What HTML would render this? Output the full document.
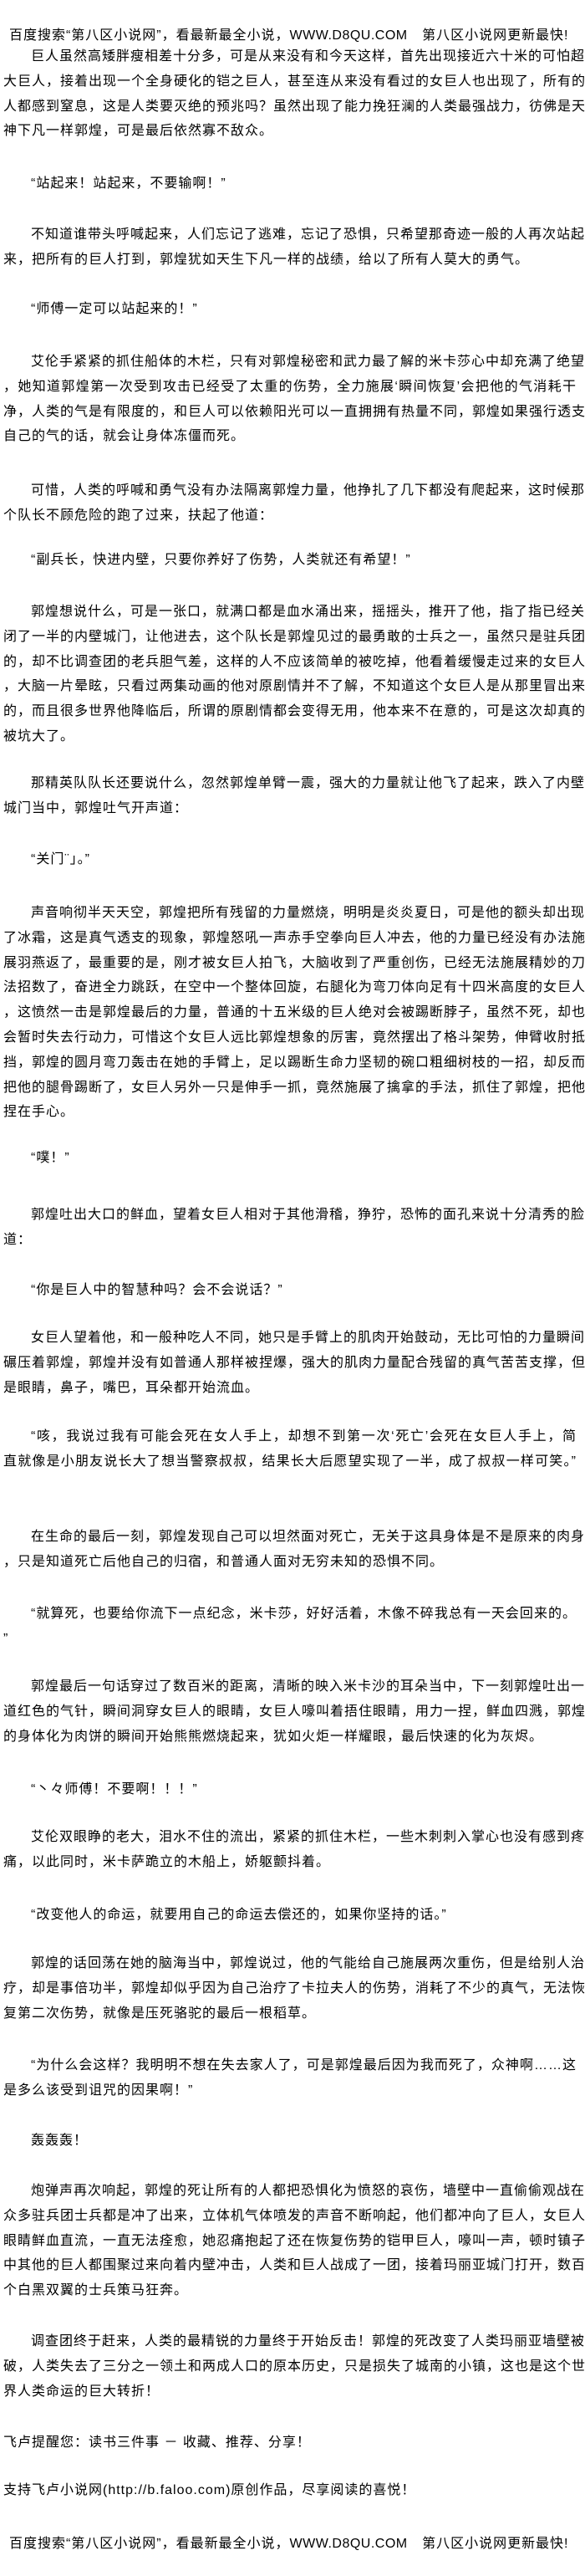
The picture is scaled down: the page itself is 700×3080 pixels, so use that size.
<!DOCTYPE html>
<html><head><meta charset="utf-8">
<style>
html,body{margin:0;padding:0;background:#fff;}
body{width:700px;height:3080px;position:relative;overflow:hidden;
font-family:"Liberation Sans","Noto Sans CJK SC","WenQuanYi Zen Hei",sans-serif;font-size:16px;color:#000;}
.p{position:absolute;left:4px;width:686px;line-height:29.8px;letter-spacing:1px;}
.p div{white-space:nowrap;height:29.8px;}
.j{text-align:justify;text-align-last:justify;}
.i{padding-left:33px;}
.h{position:absolute;left:11px;width:669px;line-height:30px;white-space:nowrap;text-align:justify;text-align-last:justify;letter-spacing:0.5px;}
</style></head><body>

<div class="h" style="top:28px">百度搜索“第八区小说网”，看最新最全小说，WWW.D8QU.COM　第八区小说网更新最快!</div>

<div class="p" style="top:53px">
<div class="j i">巨人虽然高矮胖瘦相差十分多，可是从来没有和今天这样，首先出现接近六十米的可怕超</div>
<div class="j">大巨人，接着出现一个全身硬化的铠之巨人，甚至连从来没有看过的女巨人也出现了，所有的</div>
<div class="j">人都感到窒息，这是人类要灭绝的预兆吗？虽然出现了能力挽狂澜的人类最强战力，彷佛是天</div>
<div>神下凡一样郭煌，可是最后依然寡不敌众。</div>
</div>

<div class="p" style="top:205px"><div class="i">“站起来！站起来，不要输啊！”</div></div>

<div class="p" style="top:266px">
<div class="j i">不知道谁带头呼喊起来，人们忘记了逃难，忘记了恐惧，只希望那奇迹一般的人再次站起</div>
<div>来，把所有的巨人打到，郭煌犹如天生下凡一样的战绩，给以了所有人莫大的勇气。</div>
</div>

<div class="p" style="top:355px"><div class="i">“师傅一定可以站起来的！”</div></div>

<div class="p" style="top:418px">
<div class="j i">艾伦手紧紧的抓住船体的木栏，只有对郭煌秘密和武力最了解的米卡莎心中却充满了绝望</div>
<div class="j">，她知道郭煌第一次受到攻击已经受了太重的伤势，全力施展‘瞬间恢复’会把他的气消耗干</div>
<div class="j">净，人类的气是有限度的，和巨人可以依赖阳光可以一直拥拥有热量不同，郭煌如果强行透支</div>
<div>自己的气的话，就会让身体冻僵而死。</div>
</div>

<div class="p" style="top:572px">
<div class="j i">可惜，人类的呼喊和勇气没有办法隔离郭煌力量，他挣扎了几下都没有爬起来，这时候那</div>
<div>个队长不顾危险的跑了过来，扶起了他道：</div>
</div>

<div class="p" style="top:655px"><div class="i">“副兵长，快进内壁，只要你养好了伤势，人类就还有希望！”</div></div>

<div class="p" style="top:717px">
<div class="j i">郭煌想说什么，可是一张口，就满口都是血水涌出来，摇摇头，推开了他，指了指已经关</div>
<div class="j">闭了一半的内壁城门，让他进去，这个队长是郭煌见过的最勇敢的士兵之一，虽然只是驻兵团</div>
<div class="j">的，却不比调查团的老兵胆气差，这样的人不应该简单的被吃掉，他看着缓慢走过来的女巨人</div>
<div class="j">，大脑一片晕眩，只看过两集动画的他对原剧情并不了解，不知道这个女巨人是从那里冒出来</div>
<div class="j">的，而且很多世界他降临后，所谓的原剧情都会变得无用，他本来不在意的，可是这次却真的</div>
<div>被坑大了。</div>
</div>

<div class="p" style="top:922px">
<div class="j i">那精英队队长还要说什么，忽然郭煌单臂一震，强大的力量就让他飞了起来，跌入了内壁</div>
<div>城门当中，郭煌吐气开声道：</div>
</div>

<div class="p" style="top:1013px"><div class="i">“关门¨」。”</div></div>

<div class="p" style="top:1077px">
<div class="j i">声音响彻半天天空，郭煌把所有残留的力量燃烧，明明是炎炎夏日，可是他的额头却出现</div>
<div class="j">了冰霜，这是真气透支的现象，郭煌怒吼一声赤手空拳向巨人冲去，他的力量已经没有办法施</div>
<div class="j">展羽燕返了，最重要的是，刚才被女巨人拍飞，大脑收到了严重创伤，已经无法施展精妙的刀</div>
<div class="j">法招数了，奋进全力跳跃，在空中一个整体回旋，右腿化为弯刀体向足有十四米高度的女巨人</div>
<div class="j">，这愤然一击是郭煌最后的力量，普通的十五米级的巨人绝对会被踢断脖子，虽然不死，却也</div>
<div class="j">会暂时失去行动力，可惜这个女巨人远比郭煌想象的厉害，竟然摆出了格斗架势，伸臂收肘抵</div>
<div class="j">挡，郭煌的圆月弯刀轰击在她的手臂上，足以踢断生命力坚韧的碗口粗细树枝的一招，却反而</div>
<div class="j">把他的腿骨踢断了，女巨人另外一只是伸手一抓，竟然施展了擒拿的手法，抓住了郭煌，把他</div>
<div>捏在手心。</div>
</div>

<div class="p" style="top:1370px"><div class="i">“噗！”</div></div>

<div class="p" style="top:1438px">
<div class="j i">郭煌吐出大口的鲜血，望着女巨人相对于其他滑稽，狰狞，恐怖的面孔来说十分清秀的脸</div>
<div>道：</div>
</div>

<div class="p" style="top:1528px"><div class="i">“你是巨人中的智慧种吗？会不会说话？”</div></div>

<div class="p" style="top:1585px">
<div class="j i">女巨人望着他，和一般种吃人不同，她只是手臂上的肌肉开始鼓动，无比可怕的力量瞬间</div>
<div class="j">碾压着郭煌，郭煌并没有如普通人那样被捏爆，强大的肌肉力量配合残留的真气苦苦支撑，但</div>
<div>是眼睛，鼻子，嘴巴，耳朵都开始流血。</div>
</div>

<div class="p" style="top:1703px">
<div class="j i">“咳，我说过我有可能会死在女人手上，却想不到第一次‘死亡’会死在女巨人手上，简</div>
<div class="j">直就像是小朋友说长大了想当警察叔叔，结果长大后愿望实现了一半，成了叔叔一样可笑。”</div>
</div>

<div class="p" style="top:1823px">
<div class="j i">在生命的最后一刻，郭煌发现自己可以坦然面对死亡，无关于这具身体是不是原来的肉身</div>
<div>，只是知道死亡后他自己的归宿，和普通人面对无穷未知的恐惧不同。</div>
</div>

<div class="p" style="top:1915px">
<div class="j i">“就算死，也要给你流下一点纪念，米卡莎，好好活着，木像不碎我总有一天会回来的。</div>
<div>”</div>
</div>

<div class="p" style="top:2002px">
<div class="j i">郭煌最后一句话穿过了数百米的距离，清晰的映入米卡沙的耳朵当中，下一刻郭煌吐出一</div>
<div class="j">道红色的气针，瞬间洞穿女巨人的眼睛，女巨人嚎叫着捂住眼睛，用力一捏，鲜血四溅，郭煌</div>
<div>的身体化为肉饼的瞬间开始熊熊燃烧起来，犹如火炬一样耀眼，最后快速的化为灰烬。</div>
</div>

<div class="p" style="top:2125px"><div class="i">“丶々师傅！不要啊！！！”</div></div>

<div class="p" style="top:2182px">
<div class="j i">艾伦双眼睁的老大，泪水不住的流出，紧紧的抓住木栏，一些木刺刺入掌心也没有感到疼</div>
<div>痛，以此同时，米卡萨跪立的木船上，娇躯颤抖着。</div>
</div>

<div class="p" style="top:2275px"><div class="i">“改变他人的命运，就要用自己的命运去偿还的，如果你坚持的话。”</div></div>

<div class="p" style="top:2333px">
<div class="j i">郭煌的话回荡在她的脑海当中，郭煌说过，他的气能给自己施展两次重伤，但是给别人治</div>
<div class="j">疗，却是事倍功半，郭煌却似乎因为自己治疗了卡拉夫人的伤势，消耗了不少的真气，无法恢</div>
<div>复第二次伤势，就像是压死骆驼的最后一根稻草。</div>
</div>

<div class="p" style="top:2455px">
<div class="j i">“为什么会这样？我明明不想在失去家人了，可是郭煌最后因为我而死了，众神啊……这</div>
<div>是多么该受到诅咒的因果啊！”</div>
</div>

<div class="p" style="top:2545px"><div class="i">轰轰轰！</div></div>

<div class="p" style="top:2605px">
<div class="j i">炮弹声再次响起，郭煌的死让所有的人都把恐惧化为愤怒的哀伤，墙壁中一直偷偷观战在</div>
<div class="j">众多驻兵团士兵都是冲了出来，立体机气体喷发的声音不断响起，他们都冲向了巨人，女巨人</div>
<div class="j">眼睛鲜血直流，一直无法痊愈，她忍痛抱起了还在恢复伤势的铠甲巨人，嚎叫一声，顿时镇子</div>
<div class="j">中其他的巨人都围聚过来向着内壁冲击，人类和巨人战成了一团，接着玛丽亚城门打开，数百</div>
<div>个白黑双翼的士兵策马狂奔。</div>
</div>

<div class="p" style="top:2785px">
<div class="j i">调查团终于赶来，人类的最精锐的力量终于开始反击！郭煌的死改变了人类玛丽亚墙壁被</div>
<div class="j">破，人类失去了三分之一领土和两成人口的原本历史，只是损失了城南的小镇，这也是这个世</div>
<div>界人类命运的巨大转折！</div>
</div>

<div class="p" style="top:2906px"><div>飞卢提醒您：读书三件事 － 收藏、推荐、分享！</div></div>

<div class="p" style="top:2963px"><div>支持飞卢小说网(http://b.faloo.com)原创作品，尽享阅读的喜悦！</div></div>

<div class="h" style="top:3027px">百度搜索“第八区小说网”，看最新最全小说，WWW.D8QU.COM　第八区小说网更新最快!</div>

</body></html>
